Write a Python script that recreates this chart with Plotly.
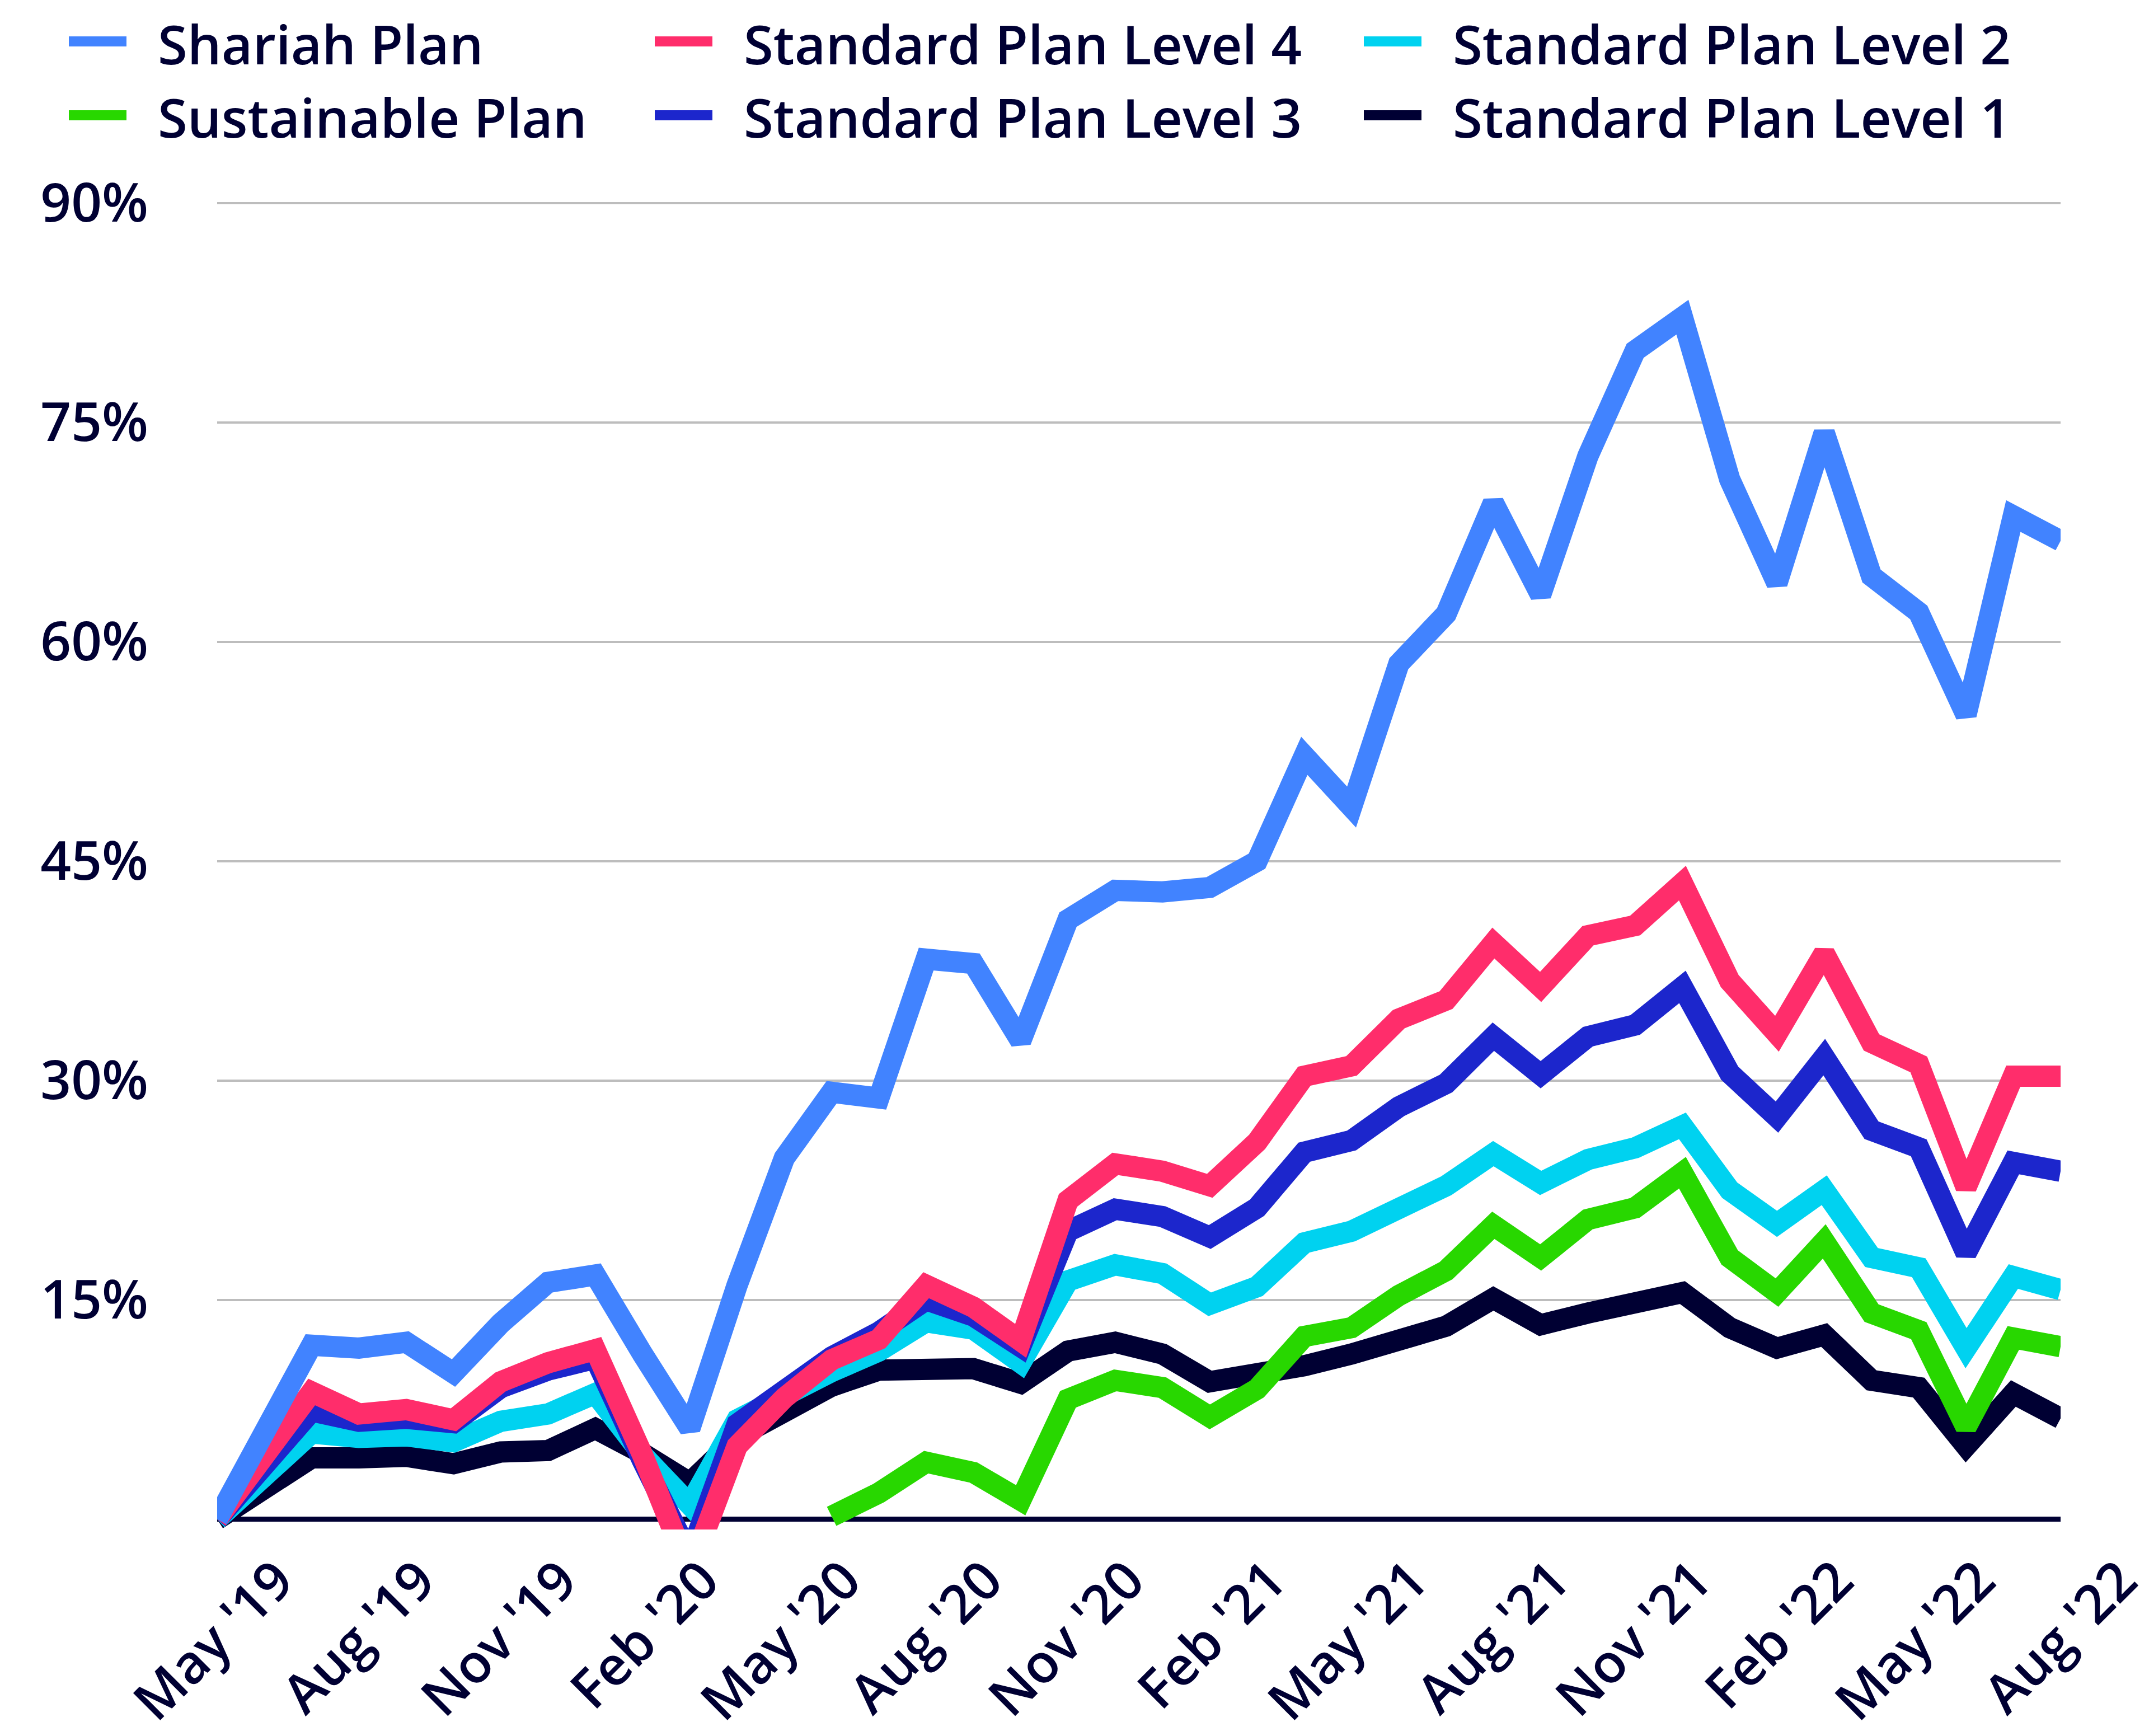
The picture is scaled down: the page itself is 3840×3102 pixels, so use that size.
import plotly.graph_objects as go

# monthly cumulative returns (%), May 2019 - Aug 2022
months = [
    "May '19", "Jun '19", "Jul '19", "Aug '19", "Sep '19", "Oct '19", "Nov '19", "Dec '19",
    "Jan '20", "Feb '20", "Mar '20", "Apr '20", "May '20", "Jun '20", "Jul '20", "Aug '20",
    "Sep '20", "Oct '20", "Nov '20", "Dec '20", "Jan '21", "Feb '21", "Mar '21", "Apr '21",
    "May '21", "Jun '21", "Jul '21", "Aug '21", "Sep '21", "Oct '21", "Nov '21", "Dec '21",
    "Jan '22", "Feb '22", "Mar '22", "Apr '22", "May '22", "Jun '22", "Jul '22", "Aug '22",
]
tick_labels = months[::3]
y_ticks = [15, 30, 45, 60, 75, 90]

shariah = [
    0, 6.3, 11.9, 11.7, 12.1, 10.0, 13.4, 16.2, 16.7, 11.3,
    6.2, 16.0, 24.7, 29.2, 28.8, 38.3, 38.0, 32.7, 41.0, 43.0,
    42.9, 43.2, 45.0, 52.2, 48.7, 58.5, 61.9, 69.5, 63.2, 72.7,
    79.9, 82.2, 71.1, 64.0, 74.3, 64.5, 62.0, 55.0, 68.6, 66.9,
]
sustainable = [
    None, None, None, None, None, None, None, None, None, None,
    None, None, None, 0.2, 1.8, 3.9, 3.2, 1.3, 8.2, 9.5,
    9.0, 7.0, 8.9, 12.5, 13.1, 15.3, 17.0, 20.1, 17.9, 20.5,
    21.3, 23.7, 17.9, 15.5, 19.0, 14.1, 12.9, 6.3, 12.4, 11.8,
]
level_4 = [
    0, 4.5, 8.7, 7.2, 7.5, 6.8, 9.4, 10.7, 11.6, 4.4,
    -3.6, 5.0, 8.3, 10.9, 12.3, 16.0, 14.5, 12.2, 21.8, 24.3,
    23.8, 22.8, 25.8, 30.3, 31.0, 34.2, 35.5, 39.4, 36.4, 39.9,
    40.6, 43.5, 36.8, 33.2, 38.7, 32.6, 31.1, 22.7, 30.3, 30.3,
]
level_3 = [
    0, 3.7, 7.4, 6.7, 6.9, 6.6, 9.0, 10.2, 11.0, 4.0,
    -2.5, 6.5, 9.0, 11.1, 12.8, 15.0, 13.9, 11.8, 19.7, 21.2,
    20.7, 19.3, 21.3, 25.1, 25.9, 28.2, 29.8, 33.0, 30.4, 33.0,
    33.8, 36.4, 30.5, 27.5, 31.6, 26.6, 25.4, 18.2, 24.4, 23.8,
]
level_2 = [
    0, 3.0, 5.9, 5.6, 5.7, 5.3, 6.7, 7.2, 8.6, 4.4,
    1.0, 6.8, 8.6, 10.1, 11.5, 13.5, 13.0, 10.7, 16.3, 17.4,
    16.8, 14.7, 15.9, 18.9, 19.7, 21.3, 22.8, 25.0, 23.0, 24.6,
    25.4, 26.9, 22.5, 20.2, 22.5, 17.9, 17.2, 11.7, 16.6, 15.7,
]
level_1 = [
    0, 1.9, 4.2, 4.2, 4.3, 3.8, 4.6, 4.7, 6.2, 4.5,
    2.5, 5.6, 7.4, 9.1, 10.2, 10.4, 10.3, 9.3, 11.5, 12.1,
    11.3, 9.4, 9.8, 10.5, 11.3, 12.2, 13.2, 15.1, 13.3, 14.1,
    14.9, 15.5, 13.1, 11.7, 12.6, 9.5, 9.0, 5.0, 8.6, 6.9,
]

NAVY = "#000033"
FONT = dict(family="Open Sans", size=96, color=NAVY, weight=600)

# drawn bottom to top
series = [
    ("Standard Plan Level 1", level_1, "#000033"),
    ("Standard Plan Level 2", level_2, "#00D2F0"),
    ("Standard Plan Level 3", level_3, "#1C26CC"),
    ("Standard Plan Level 4", level_4, "#FF2D6B"),
    ("Sustainable Plan", sustainable, "#28D700"),
    ("Shariah Plan", shariah, "#4183FF"),
]
colors = {name: color for name, _, color in series}

# legend grid: (name, column, row)
legend_items = [
    ("Shariah Plan", 0, 0),
    ("Standard Plan Level 4", 1, 0),
    ("Standard Plan Level 2", 2, 0),
    ("Sustainable Plan", 0, 1),
    ("Standard Plan Level 3", 1, 1),
    ("Standard Plan Level 1", 2, 1),
]

W, H = 3840, 3102
M = dict(l=380, r=166, t=347, b=377)
plot_w = W - M["l"] - M["r"]
plot_h = H - M["t"] - M["b"]


def paper_x(px):
    return (px - M["l"]) / plot_w


def paper_y(py):
    return (H - M["b"] - py) / plot_h


fig = go.Figure()
for name, values, color in series:
    fig.add_trace(
        go.Scatter(
            x=months,
            y=values,
            name=name,
            mode="lines",
            line=dict(color=color, width=38),
            showlegend=False,
        )
    )

# legend drawn by hand so the swatches match the thick bars
col_x = [115, 1162, 2429]
row_y = [66, 198]
for name, col, row in legend_items:
    fig.add_shape(
        type="line",
        xref="paper",
        yref="paper",
        x0=paper_x(col_x[col]),
        x1=paper_x(col_x[col] + 103),
        y0=paper_y(row_y[row]),
        y1=paper_y(row_y[row]),
        line=dict(color=colors[name], width=18),
    )
    fig.add_annotation(
        x=paper_x(col_x[col] + 157),
        y=paper_y(row_y[row] + 3),
        xref="paper",
        yref="paper",
        text=name,
        showarrow=False,
        xanchor="left",
        yanchor="middle",
        font=FONT,
    )

fig.update_xaxes(
    type="category",
    range=[0, len(months) - 1],
    tickmode="array",
    tickvals=tick_labels,
    ticktext=tick_labels,
    tickangle=-45,
    tickfont=FONT,
    ticklabelshift=108,
    ticklabelstandoff=14,
    showgrid=False,
    showline=False,
    zeroline=False,
    ticks="",
    automargin=False,
)
fig.update_yaxes(
    range=[-0.7, 90.3],
    tickmode="array",
    tickvals=y_ticks,
    ticktext=[f"{v}%" for v in y_ticks],
    tickfont=FONT,
    showgrid=True,
    gridcolor="#BDBDBD",
    gridwidth=4,
    zeroline=True,
    zerolinecolor=NAVY,
    zerolinewidth=9,
    showline=False,
    ticks="",
    ticklabelstandoff=122,
    automargin=False,
)
fig.update_layout(
    width=W,
    height=H,
    margin=M,
    plot_bgcolor="white",
    paper_bgcolor="white",
    font=FONT,
)

fig.write_html("out.html")
